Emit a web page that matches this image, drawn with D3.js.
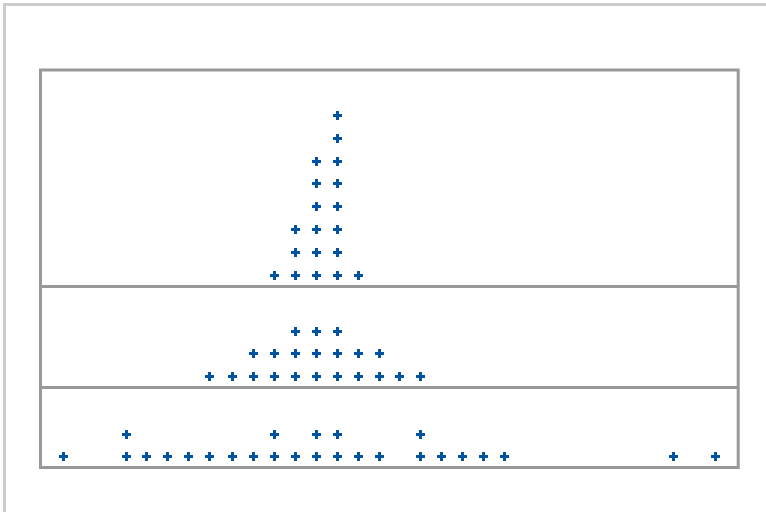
<!DOCTYPE html>
<html lang="en">
<head>
<meta charset="utf-8">
<title>Dot plot</title>
<script src="https://d3js.org/d3.v7.min.js"></script>
<style>
body { margin: 0; background: #fff; }
svg { display: block; }
.frame { fill: none; stroke: #999; stroke-width: 3; }
.outer { fill: none; stroke: #ccc; stroke-width: 3; }
.mark { fill: #0053a0; }
</style>
</head>
<body>
<svg width="766" height="512"></svg>
<script>
// observations per group (one entry per plotted cross)
var groupTop = [10.1, 11.1, 11.1, 11.1, 12.1, 12.1, 12.1, 12.1, 12.1, 12.1,
  13.1, 13.1, 13.1, 13.1, 13.1, 13.1, 13.1, 13.1, 14.1];
var groupMid = [7, 8.1, 9.1, 9.1, 10.1, 10.1, 11.1, 11.1, 11.1, 12.1, 12.1, 12.1,
  13.1, 13.1, 13.1, 14.1, 14.1, 15.1, 15.1, 16.1, 17.1];
var groupBottom = [0, 3, 3, 4, 5, 6, 7, 8.1, 9.1, 10.1, 10.1, 11.1, 12.1, 12.1,
  13.1, 13.1, 14.1, 15.1, 17.1, 17.1, 18.1, 19.1, 20.1, 21.1, 29.2, 31.2];

var groups = [groupTop, groupMid, groupBottom];

var svg = d3.select("svg");

// page border (runs off the right and bottom edges)
svg.append("rect").attr("class", "outer")
    .attr("x", 4.5).attr("y", 4.5).attr("width", 900).attr("height", 700);

var left = 40.5, right = 738.2;
var panels = [
  {top: 70, bottom: 286.5, ymax: 10},
  {top: 286.5, bottom: 387.5, ymax: 5.0},
  {top: 387.5, bottom: 467.5, ymax: 4.19}
];

var x = d3.scaleLinear().domain([-1.09, 32.28]).range([left, right]);

// 9px cross, 3px arms, aligned to the pixel grid
var plus = "M-1,-4h3v3h3v3h-3v3h-3v-3h-3v-3h3z";

panels.forEach(function(p, i) {
  var y = d3.scaleLinear().domain([0.5, p.ymax]).range([p.bottom, p.top]);

  // stack repeated values
  var counts = {};
  var pts = groups[i].map(function(v) {
    counts[v] = (counts[v] || 0) + 1;
    return {value: v, n: counts[v]};
  });

  svg.append("g").selectAll("path")
    .data(pts)
    .enter().append("path")
      .attr("class", "mark")
      .attr("d", plus)
      .attr("transform", function(d) {
        return "translate(" + Math.round(x(d.value) - 0.5) + "," + Math.round(y(d.n) - 0.5) + ")";
      });
});

// panel frame and dividers
svg.append("rect").attr("class", "frame")
    .attr("x", left).attr("y", panels[0].top)
    .attr("width", right - left).attr("height", panels[2].bottom - panels[0].top);

svg.selectAll(".divider")
  .data(panels.slice(1))
  .enter().append("line")
    .attr("class", "frame")
    .attr("x1", left).attr("x2", right)
    .attr("y1", function(d) { return d.top; })
    .attr("y2", function(d) { return d.top; });
</script>
</body>
</html>
